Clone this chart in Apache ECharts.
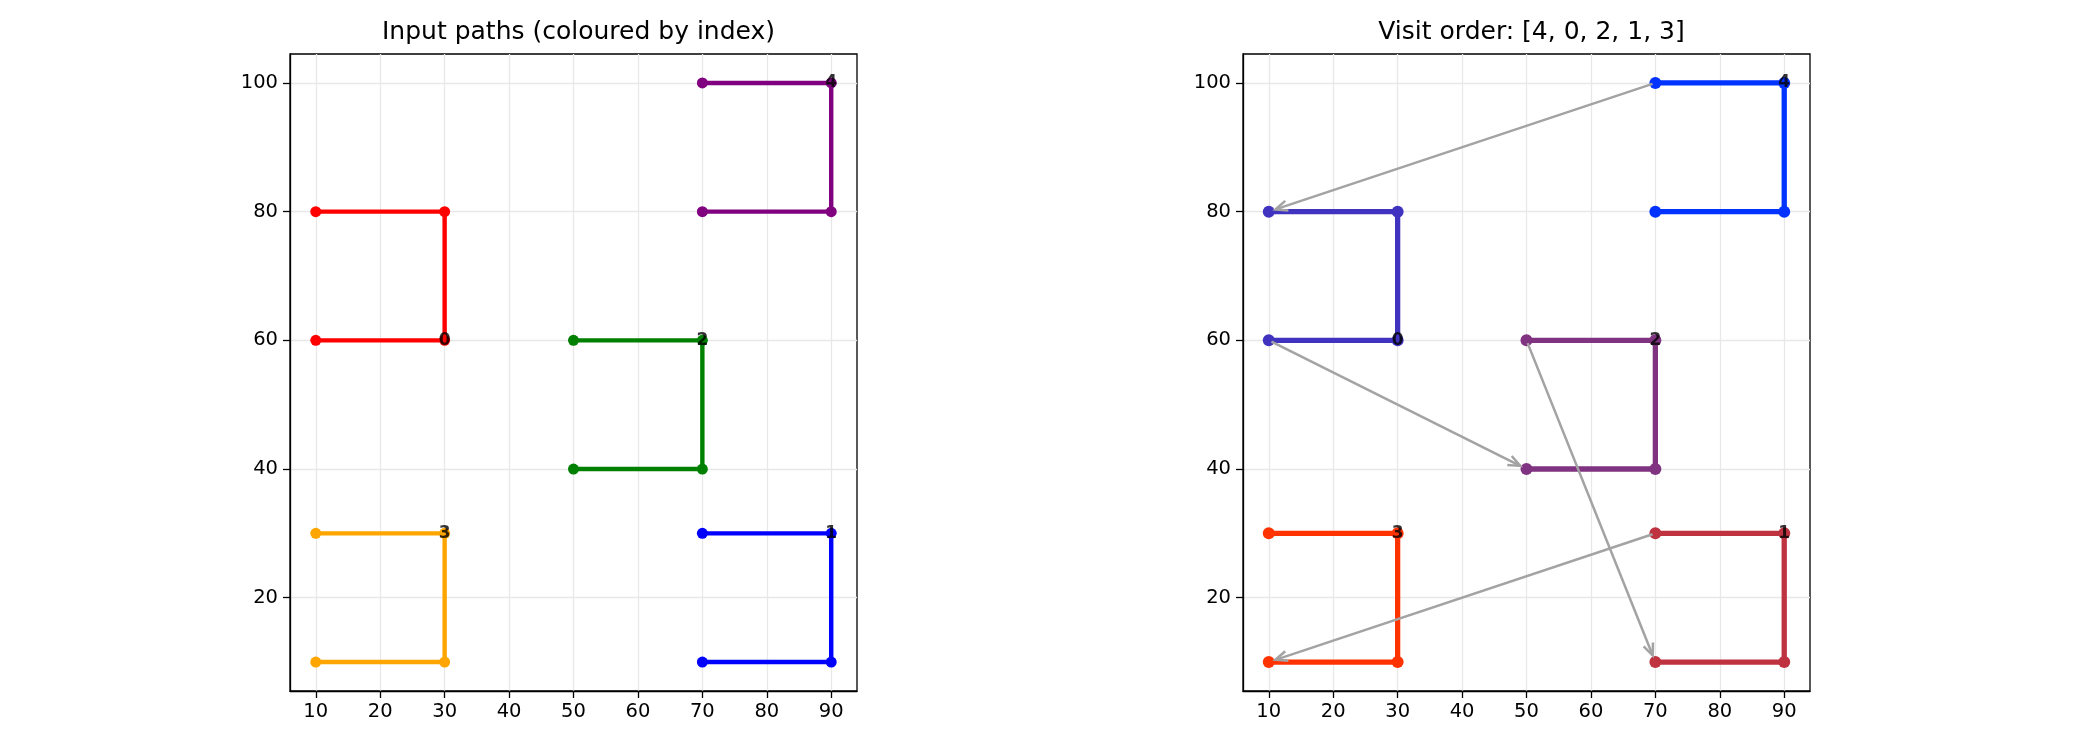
<!DOCTYPE html>
<html>
<head>
<meta charset="utf-8">
<script src="https://cdn.jsdelivr.net/npm/echarts@6/dist/echarts.min.js"></script>
<style>
html, body { margin: 0; padding: 0; background: #fff; }
#chart { width: 2100px; height: 750px; }
</style>
</head>
<body>
<div id="chart"></div>
<script>
'use strict';

// path data (index = path id)
const pathPoints = [
    [[10, 80], [30, 80], [30, 60], [10, 60]],
    [[70, 30], [90, 30], [90, 10], [70, 10]],
    [[50, 60], [70, 60], [70, 40], [50, 40]],
    [[10, 30], [30, 30], [30, 10], [10, 10]],
    [[70, 100], [90, 100], [90, 80], [70, 80]]
];
const labelPoints = [[30, 60], [90, 30], [70, 60], [30, 30], [90, 100]];
const labelTexts = ['0', '1', '2', '3', '4'];
const indexColors = ['#ff0000', '#0000ff', '#008000', '#ffa500', '#800080'];

// visit order panel
const visitOrder = [4, 0, 2, 1, 3];
const visitColors = ['#0033ff', '#4033bf', '#803380', '#bf3340', '#ff3300'];
const arrowLinks = [
    [70, 100, 10, 80],
    [10, 60, 50, 40],
    [50, 60, 70, 10],
    [70, 30, 10, 10]
];

const xTicks = [10, 20, 30, 40, 50, 60, 70, 80, 90];
const yTicks = [20, 40, 60, 80, 100];
const titles = ['Input paths (coloured by index)', 'Visit order: [' + visitOrder.join(', ') + ']'];

const chart = echarts.init(document.getElementById('chart'));
const FONT = 'DejaVu Sans';

const makeAxis = (gridIndex, min, max, ticks, isX) => ({
    type: 'value',
    gridIndex: gridIndex,
    min: min,
    max: max,
    axisLine: { show: true, onZero: false, lineStyle: { color: '#000', width: 1.3 } },
    axisTick: { show: true, customValues: ticks, length: 7, lineStyle: { color: '#000', width: 1.3 } },
    axisLabel: { customValues: ticks, fontSize: 19.5, color: '#000', fontFamily: FONT, margin: isX ? 11 : 12 },
    splitLine: { show: true, lineStyle: { color: '#e8e8e8', width: 1.3 } }
});

let arrSeries = [];

// left panel: coloured by index
pathPoints.forEach((pts, i) => {
    arrSeries.push({
        type: 'line',
        xAxisIndex: 0,
        yAxisIndex: 0,
        data: pts,
        symbol: 'circle',
        symbolSize: 11,
        lineStyle: { width: 4.4, color: indexColors[i] },
        itemStyle: { color: indexColors[i] },
        z: 2
    });
});

// right panel: coloured by visit position
pathPoints.forEach((pts, i) => {
    const c = visitColors[visitOrder.indexOf(i)];
    arrSeries.push({
        type: 'line',
        xAxisIndex: 1,
        yAxisIndex: 1,
        data: pts,
        symbol: 'circle',
        symbolSize: 12,
        lineStyle: { width: 5.3, color: c },
        itemStyle: { color: c },
        z: 2
    });
});

// arrows between paths
arrSeries.push({
    type: 'custom',
    xAxisIndex: 1,
    yAxisIndex: 1,
    data: arrowLinks,
    z: 4,
    renderItem: (params, api) => {
        const p0 = api.coord([api.value(0), api.value(1)]);
        const p1 = api.coord([api.value(2), api.value(3)]);
        const dx = p1[0] - p0[0], dy = p1[1] - p0[1];
        const len = Math.hypot(dx, dy);
        const ux = dx / len, uy = dy / len;
        const s = [p0[0] + ux * 3, p0[1] + uy * 3];
        const e = [p1[0] - ux * 7, p1[1] - uy * 7];
        const hl = 12, hw = 5;
        const b = [e[0] - ux * hl, e[1] - uy * hl];
        const l = [b[0] - uy * hw, b[1] + ux * hw];
        const r = [b[0] + uy * hw, b[1] - ux * hw];
        const st = { stroke: '#a3a3a3', lineWidth: 2.5, fill: null };
        return {
            type: 'group',
            children: [
                { type: 'line', shape: { x1: s[0], y1: s[1], x2: e[0], y2: e[1] }, style: st },
                { type: 'polyline', shape: { points: [l, e, r] }, style: st }
            ]
        };
    }
});

// index labels on both panels
[0, 1].forEach((g) => {
    arrSeries.push({
        type: 'scatter',
        xAxisIndex: g,
        yAxisIndex: g,
        data: labelPoints.map((p, i) => ({ value: p, name: labelTexts[i] })),
        symbolSize: 2,
        itemStyle: { color: 'rgba(0,0,0,0)' },
        label: {
            show: true,
            position: 'inside',
            formatter: '{b}',
            fontSize: 17,
            fontWeight: 'bold',
            color: '#000',
            fontFamily: FONT
        },
        z: 5
    });
});

const gridLefts = [290, 1243];

const option = {
    animation: false,
    backgroundColor: '#fff',
    title: titles.map((t, i) => ({
        text: t,
        left: gridLefts[i] + 283.5,
        top: 15,
        textAlign: 'center',
        textStyle: { fontSize: 25, fontWeight: 'normal', color: '#000', fontFamily: FONT }
    })),
    grid: gridLefts.map((l) => ({
        left: l,
        top: 54,
        width: 567,
        height: 637,
        show: true,
        borderColor: '#000',
        borderWidth: 1.3,
        backgroundColor: 'transparent',
        outerBoundsMode: 'none'
    })),
    xAxis: [makeAxis(0, 6, 94, xTicks, true), makeAxis(1, 6, 94, xTicks, true)],
    yAxis: [makeAxis(0, 5.5, 104.5, yTicks, false), makeAxis(1, 5.5, 104.5, yTicks, false)],
    series: arrSeries
};

chart.setOption(option);
</script>
</body>
</html>
